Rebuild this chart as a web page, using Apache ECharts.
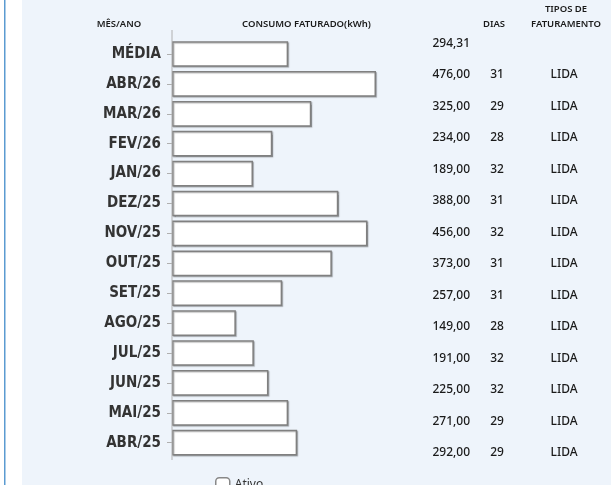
<!DOCTYPE html>
<html>
<head>
<meta charset="utf-8">
<script src="https://cdn.jsdelivr.net/npm/echarts@6/dist/echarts.min.js"></script>
<style>
  html, body { margin: 0; padding: 0; background: #ffffff; }
  #chart { width: 611px; height: 485px; }
</style>
</head>
<body>
<div id="chart"></div>
<script>
// ---- data ----
var categories = ['MÉDIA', 'ABR/26', 'MAR/26', 'FEV/26', 'JAN/26', 'DEZ/25', 'NOV/25', 'OUT/25', 'SET/25', 'AGO/25', 'JUL/25', 'JUN/25', 'MAI/25', 'ABR/25'];
var consumo = [294.31, 476, 325, 234, 189, 388, 456, 373, 257, 149, 191, 225, 271, 292];
// bar lengths as drawn (the MÉDIA bar is drawn shorter than its printed value)
var barValues = [271, 476, 325, 234, 189, 388, 456, 373, 257, 149, 191, 225, 271, 292];
var dias = ['', '31', '29', '28', '32', '31', '32', '31', '31', '28', '32', '32', '29', '29'];
var tipos = ['', 'LIDA', 'LIDA', 'LIDA', 'LIDA', 'LIDA', 'LIDA', 'LIDA', 'LIDA', 'LIDA', 'LIDA', 'LIDA', 'LIDA', 'LIDA'];
var headers = ['MÊS/ANO', 'CONSUMO FATURADO(kWh)', 'DIAS', 'TIPOS DE', 'FATURAMENTO'];
var seriesName = 'Ativo';

var valueLabels = consumo.map(function (v) { return v.toFixed(2).replace('.', ','); });

var chart = echarts.init(document.getElementById('chart'), null, { renderer: 'canvas' });

var headerFont = { fontFamily: 'Noto Sans', fontSize: 9.5, fontWeight: 600, fill: '#1a1a1a' };
function headerText(text, x, y) {
  return {
    type: 'text', x: x, y: y, z: 10,
    style: Object.assign({ text: text, textAlign: 'center', textVerticalAlign: 'middle' }, headerFont)
  };
}

var tableLabel = { fontFamily: 'Noto Sans', fontSize: 12, fontWeight: 500, color: '#1a1a1a', margin: 0 };

var option = {
  backgroundColor: '#eef4fb',
  animation: false,
  graphic: [
    { type: 'rect', z: -100, shape: { x: 0, y: 0, width: 22, height: 485 }, style: { fill: '#ffffff' } },
    { type: 'rect', z: -99, shape: { x: 4, y: 0, width: 1.5, height: 485 }, style: { fill: '#5b9bd1' } },
    { type: 'line', z: 5, shape: { x1: 172, y1: 30, x2: 172, y2: 460 }, style: { stroke: '#b0b0b0', lineWidth: 1 } },
    headerText(headers[0], 119, 24),
    headerText(headers[1], 306.5, 24),
    headerText(headers[2], 494, 24),
    headerText(headers[3], 566, 9),
    headerText(headers[4], 566, 24)
  ],
  legend: {
    data: [seriesName],
    left: 215,
    top: 477,
    padding: 0,
    icon: 'roundRect',
    itemWidth: 14,
    itemHeight: 14,
    itemGap: 5,
    selectedMode: false,
    textStyle: { fontFamily: 'Noto Sans', fontSize: 12, color: '#333' },
    itemStyle: { color: '#ffffff', borderColor: '#888', borderWidth: 1.5, shadowBlur: 0, shadowOffsetX: 0, shadowOffsetY: 0 }
  },
  grid: [
    { left: 172, top: 39.05, width: 214.3, height: 418.6 },
    { left: 470, top: 27.5, width: 141, height: 441 }
  ],
  xAxis: [
    { type: 'value', gridIndex: 0, min: 0, max: 500, show: false },
    { type: 'value', gridIndex: 1, show: false }
  ],
  yAxis: [
    {
      type: 'category', gridIndex: 0, data: categories, inverse: true,
      axisLine: { show: false },
      axisTick: { show: true, alignWithLabel: true, length: 5, lineStyle: { color: '#b0b0b0' } },
      axisLabel: {
        margin: 11, color: '#333333', fontFamily: 'DejaVu Sans Condensed',
        fontWeight: 'bold', fontSize: 15
      },
      splitLine: { show: false }
    },
    {
      type: 'category', gridIndex: 1, data: valueLabels, inverse: true, position: 'left', offset: 0,
      axisLine: { show: false }, axisTick: { show: false }, splitLine: { show: false },
      axisLabel: Object.assign({ align: 'right' }, tableLabel)
    },
    {
      type: 'category', gridIndex: 1, data: dias, inverse: true, position: 'left', offset: -27,
      axisLine: { show: false }, axisTick: { show: false }, splitLine: { show: false },
      axisLabel: Object.assign({ align: 'center' }, tableLabel)
    },
    {
      type: 'category', gridIndex: 1, data: tipos, inverse: true, position: 'left', offset: -94,
      axisLine: { show: false }, axisTick: { show: false }, splitLine: { show: false },
      axisLabel: Object.assign({ align: 'center' }, tableLabel)
    }
  ],
  series: [
    {
      name: seriesName,
      type: 'bar',
      xAxisIndex: 0,
      yAxisIndex: 0,
      data: barValues,
      barCategoryGap: '14%',
      itemStyle: {
        color: '#ffffff',
        borderColor: '#808080',
        borderWidth: 1.5,
        shadowColor: 'rgba(0,0,0,0.25)',
        shadowBlur: 1,
        shadowOffsetX: 1,
        shadowOffsetY: 1
      },
      emphasis: { disabled: true }
    }
  ]
};

chart.setOption(option);
</script>
</body>
</html>
